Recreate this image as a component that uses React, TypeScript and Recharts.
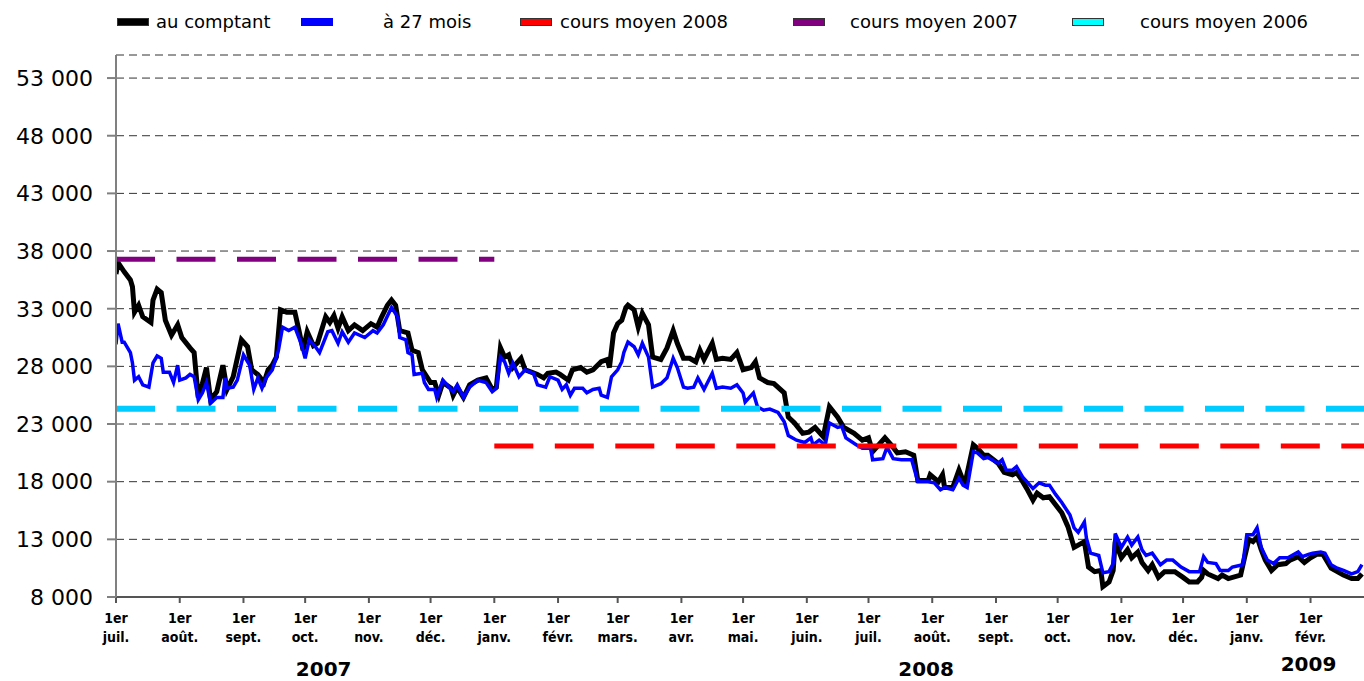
import React from 'react';
import { LineChart, Line, XAxis, YAxis, CartesianGrid } from 'recharts';

// days counted from 1 July 2007
const spotDays = [0, 1, 4, 7, 8, 9, 11, 13, 17, 18, 20, 22, 24, 27, 30, 32, 36, 38, 40, 42, 44, 46, 49, 52, 54, 57, 61, 64, 66, 69, 72, 74, 76, 78, 80, 83, 87, 89, 91, 93, 96, 98, 102, 104, 106, 108, 110, 113, 116, 120, 124, 127, 129, 132, 134, 136, 138, 142, 144, 147, 149, 153, 155, 157, 159, 163, 164, 166, 169, 172, 176, 180, 183, 185, 187, 189, 191, 193, 197, 199, 202, 205, 208, 210, 214, 216, 220, 222, 226, 229, 232, 236, 239, 240, 242, 244, 246, 248, 249, 252, 254, 256, 259, 261, 265, 268, 271, 273, 276, 279, 282, 284, 286, 290, 292, 295, 299, 302, 305, 309, 311, 313, 317, 320, 325, 327, 330, 334, 337, 340, 344, 347, 351, 354, 359, 363, 366, 368, 374, 377, 380, 384, 388, 390, 395, 396, 400, 402, 403, 407, 410, 412, 413, 417, 419, 422, 424, 429, 432, 436, 438, 440, 443, 446, 448, 451, 454, 457, 460, 463, 466, 468, 471, 473, 476, 479, 480, 483, 485, 486, 489, 492, 494, 497, 499, 502, 504, 507, 510, 515, 519, 522, 526, 528, 529, 531, 536, 538, 541, 547, 549, 551, 553, 555, 557, 559, 562, 565, 569, 571, 575, 578, 581, 584, 587, 591, 594, 597, 601, 604, 606];
const spotValues = [36000, 37000, 36200, 35500, 34900, 32700, 33300, 32300, 31800, 33750, 34700, 34400, 32000, 30700, 31600, 30500, 29600, 29200, 25300, 26500, 27900, 25100, 25800, 28100, 26000, 27100, 30300, 29700, 27700, 27300, 26600, 27700, 28100, 28800, 32900, 32700, 32700, 31100, 29400, 31000, 29800, 30000, 32300, 31800, 32400, 31300, 32300, 31100, 31600, 31100, 31700, 31400, 32200, 33300, 33750, 33300, 31100, 30900, 29400, 29200, 27700, 26600, 26600, 25500, 26600, 26100, 25500, 26200, 25300, 26400, 26800, 27000, 26000, 26200, 29600, 28800, 29000, 27900, 28700, 27700, 27500, 27300, 27000, 27400, 27500, 27300, 26800, 27700, 27900, 27500, 27700, 28400, 28600, 27900, 30900, 31700, 32000, 33100, 33300, 32900, 31400, 32600, 31600, 28800, 28600, 29600, 31100, 30000, 28700, 28700, 28400, 29400, 28600, 30000, 28600, 28700, 28600, 29200, 27700, 27900, 28400, 27000, 26600, 26500, 25700, 23600, 23100, 22200, 22300, 22700, 21900, 24500, 23600, 22700, 22200, 21600, 21800, 20600, 21800, 21200, 20500, 20600, 20300, 18100, 18100, 18600, 18000, 18600, 17500, 17500, 19000, 18100, 17900, 21200, 20900, 20300, 20300, 19600, 18800, 18600, 18800, 18300, 17400, 16400, 17000, 16600, 16700, 16000, 15300, 14100, 12300, 12500, 12800, 10600, 10200, 10300, 8900, 9300, 10300, 12800, 11400, 12100, 11400, 11900, 11000, 10300, 10800, 9700, 10200, 10200, 9700, 9300, 9300, 9700, 10300, 10000, 9600, 9900, 9600, 9900, 11500, 13000, 12800, 13200, 12100, 11200, 10300, 10800, 10900, 11200, 11500, 11000, 11400, 11700, 11700, 10500, 10200, 9900, 9600, 9600, 10000];

const fwdDays = [0, 1, 3, 4, 7, 8, 9, 11, 13, 16, 18, 20, 22, 23, 26, 28, 30, 31, 34, 36, 38, 40, 42, 44, 46, 49, 52, 53, 54, 57, 59, 62, 65, 67, 69, 71, 73, 76, 79, 81, 84, 87, 90, 92, 94, 97, 99, 103, 105, 108, 110, 113, 116, 121, 125, 127, 130, 134, 137, 138, 141, 142, 144, 145, 149, 150, 152, 155, 156, 159, 162, 164, 166, 169, 172, 176, 180, 183, 185, 187, 189, 191, 193, 196, 199, 203, 205, 209, 211, 215, 217, 219, 221, 223, 227, 229, 232, 235, 236, 239, 241, 244, 246, 247, 249, 252, 254, 256, 259, 261, 265, 268, 271, 273, 276, 278, 281, 283, 286, 290, 292, 295, 299, 302, 305, 306, 310, 312, 315, 318, 322, 325, 327, 331, 335, 338, 339, 342, 345, 347, 351, 353, 355, 360, 363, 367, 368, 373, 375, 378, 382, 387, 390, 395, 398, 401, 403, 407, 410, 412, 414, 417, 419, 422, 424, 429, 431, 433, 436, 438, 441, 443, 446, 449, 452, 454, 457, 460, 464, 466, 468, 471, 472, 474, 478, 480, 483, 485, 486, 489, 492, 494, 497, 499, 501, 504, 508, 511, 514, 518, 522, 527, 529, 531, 535, 537, 541, 543, 548, 550, 553, 555, 557, 560, 563, 566, 570, 573, 575, 577, 580, 582, 586, 588, 591, 594, 597, 601, 604, 606];
const fwdValues = [29900, 31700, 30100, 30100, 29200, 28300, 26800, 27100, 26400, 26200, 28300, 28900, 28700, 27500, 27500, 26600, 28100, 26800, 27000, 27300, 27100, 25100, 25700, 26600, 24800, 25300, 25300, 27000, 26100, 26200, 26800, 29000, 28100, 26000, 27000, 26100, 27000, 27700, 29400, 31400, 31100, 31400, 30000, 28700, 30300, 29700, 29200, 31000, 31100, 30000, 31000, 30100, 30900, 30500, 31100, 30900, 31600, 33100, 32300, 30500, 30300, 29200, 29000, 27300, 27400, 26600, 26000, 26000, 25300, 26800, 26200, 25800, 26400, 25300, 26200, 26800, 26600, 25800, 26100, 28800, 28400, 27400, 28300, 27100, 27700, 27400, 26400, 26200, 27100, 26800, 26000, 26400, 25500, 26100, 26100, 25700, 26000, 26100, 25500, 25300, 27100, 27700, 28400, 29200, 30100, 29700, 29000, 30000, 28800, 26200, 26500, 27000, 28700, 27900, 26200, 26100, 26200, 27000, 26000, 27400, 26100, 26200, 26100, 26400, 25700, 24900, 25700, 24500, 24200, 24300, 24000, 23200, 22000, 21600, 21400, 21800, 21200, 21600, 21200, 23100, 22700, 22800, 21800, 21200, 20900, 20900, 19900, 20000, 21000, 20000, 19900, 19900, 18000, 18000, 17900, 17300, 17500, 17300, 18300, 17700, 17500, 20600, 20500, 20000, 20100, 19600, 19900, 19000, 19000, 19300, 18400, 18000, 17400, 17900, 17700, 17700, 16900, 16200, 15100, 14000, 13600, 14500, 13100, 11800, 11600, 10100, 10200, 10900, 13500, 12300, 13200, 12500, 13200, 12100, 11600, 11800, 10800, 11200, 11200, 10600, 10200, 10200, 11500, 11000, 10900, 10300, 10300, 10600, 10800, 13400, 13400, 14000, 12300, 11200, 10900, 11400, 11400, 11700, 11900, 11500, 11700, 11800, 11900, 11800, 10800, 10500, 10300, 10000, 10200, 10800];

// yearly average prices, with the day span each one covers
const avg2008 = 21090;
const avg2008Days = [184, 607];
const avg2007 = 37280;
const avg2007Days = [0, 184];
const avg2006 = 24330;
const avg2006Days = [0, 607];

const monthTicks = [0, 31, 62, 92, 123, 153, 184, 215, 244, 275, 305, 336, 366, 397, 428, 458, 489, 519, 550, 581];
const monthLabels = ['juil.', 'août.', 'sept.', 'oct.', 'nov.', 'déc.', 'janv.', 'févr.', 'mars.', 'avr.', 'mai.', 'juin.', 'juil.', 'août.', 'sept.', 'oct.', 'nov.', 'déc.', 'janv.', 'févr.'];
const yearTicks = [101, 394, 580];
const yearLabels = ['2007', '2008', '2009'];
const yTicks = [8000, 13000, 18000, 23000, 28000, 33000, 38000, 43000, 48000, 53000];

const spotData = spotDays.map((d, i) => ({ d, v: spotValues[i] }));
const fwdData = fwdDays.map((d, i) => ({ d, v: fwdValues[i] }));
const flat = (days: number[], v: number) => days.map((d) => ({ d, v }));

const FONT = '"DejaVu Sans", Verdana, sans-serif';
const COND = '"DejaVu Sans Condensed", "DejaVu Sans", sans-serif';

const legendItems = [
    { name: 'au comptant', color: '#000000', swatchX: 117, textX: 156, border: true },
    { name: 'à 27 mois', color: '#0000ff', swatchX: 301, textX: 383, border: false },
    { name: 'cours moyen 2008', color: '#ff0000', swatchX: 520, textX: 560, border: true },
    { name: 'cours moyen 2007', color: '#800080', swatchX: 793, textX: 850, border: true },
    { name: 'cours moyen 2006', color: '#00ffff', swatchX: 1072, textX: 1140, border: true },
];

const MonthTick = ({ x, y, payload }: any) => {
    const i = monthTicks.indexOf(payload.value);
    return (
        <text x={x} y={y} textAnchor="middle" fontFamily={COND} fontWeight="bold" fontSize={14} fill="#000">
            <tspan x={x} dy={18}>1er</tspan>
            <tspan x={x} dy={19}>{monthLabels[i]}</tspan>
        </text>
    );
};

const YearTick = ({ x, y, payload }: any) => {
    const i = yearTicks.indexOf(payload.value);
    return (
        <text x={x} y={y + (i === 2 ? 22 : 27)} textAnchor="middle" fontFamily={FONT} fontWeight="bold" fontSize={20} fill="#000">
            {yearLabels[i]}
        </text>
    );
};

export default function App() {
    return (
        <div style={{ position: 'absolute', left: 0, top: 0, width: 1364, height: 681, background: '#fff' }}>
            {legendItems.map((it) => (
                <React.Fragment key={it.name}>
                    <div
                        style={{
                            position: 'absolute', left: it.swatchX, top: 18, width: 32, height: 8,
                            background: it.color, boxSizing: 'border-box',
                            border: it.border ? '1px solid #333' : 'none',
                        }}
                    />
                    <div
                        style={{
                            position: 'absolute', left: it.textX, top: 10, fontFamily: FONT, fontSize: 18,
                            lineHeight: '24px', color: '#000', whiteSpace: 'nowrap',
                        }}
                    >
                        {it.name}
                    </div>
                </React.Fragment>
            ))}
            <LineChart width={1364} height={681} margin={{ top: 55, right: 0, bottom: 0, left: 0 }}>
                <CartesianGrid vertical={false} stroke="#333" strokeDasharray="8 5" yAxisId="y" xAxisId="day" />
                <XAxis
                    xAxisId="day"
                    dataKey="d"
                    type="number"
                    domain={[0, 607]}
                    ticks={monthTicks}
                    interval={0}
                    allowDataOverflow
                    height={50}
                    stroke="#555"
                    strokeWidth={2}
                    tickSize={6}
                    tick={<MonthTick />}
                />
                <XAxis
                    xAxisId="year"
                    dataKey="d"
                    type="number"
                    domain={[0, 607]}
                    ticks={yearTicks}
                    interval={0}
                    allowDataOverflow
                    height={34}
                    axisLine={false}
                    tickLine={false}
                    tickSize={0}
                    tick={<YearTick />}
                />
                <YAxis
                    yAxisId="y"
                    type="number"
                    domain={[8000, 55000]}
                    ticks={yTicks}
                    interval={0}
                    allowDataOverflow
                    width={116}
                    stroke="#808080"
                    strokeWidth={2}
                    tickSize={9}
                    tickMargin={14}
                    tick={{ fill: '#000', fontSize: 22, fontFamily: FONT }}
                    tickFormatter={(v: number) => `${Math.round(v / 1000)} 000`}
                />
                <Line xAxisId="day" yAxisId="y" data={spotData} dataKey="v" type="linear" stroke="#000" strokeWidth={5} dot={false} isAnimationActive={false} />
                <Line xAxisId="day" yAxisId="y" data={fwdData} dataKey="v" type="linear" stroke="#0000ff" strokeWidth={3.5} dot={false} isAnimationActive={false} />
                <Line xAxisId="day" yAxisId="y" data={flat(avg2008Days, avg2008)} dataKey="v" stroke="#ff0000" strokeWidth={5} strokeDasharray="39 21.5" dot={false} isAnimationActive={false} />
                <Line xAxisId="day" yAxisId="y" data={flat(avg2007Days, avg2007)} dataKey="v" stroke="#800080" strokeWidth={5} strokeDasharray="39 21.5" dot={false} isAnimationActive={false} />
                <Line xAxisId="day" yAxisId="y" data={flat(avg2006Days, avg2006)} dataKey="v" stroke="#00ccff" strokeWidth={6} strokeDasharray="39 21.5" dot={false} isAnimationActive={false} />
            </LineChart>
        </div>
    );
}
